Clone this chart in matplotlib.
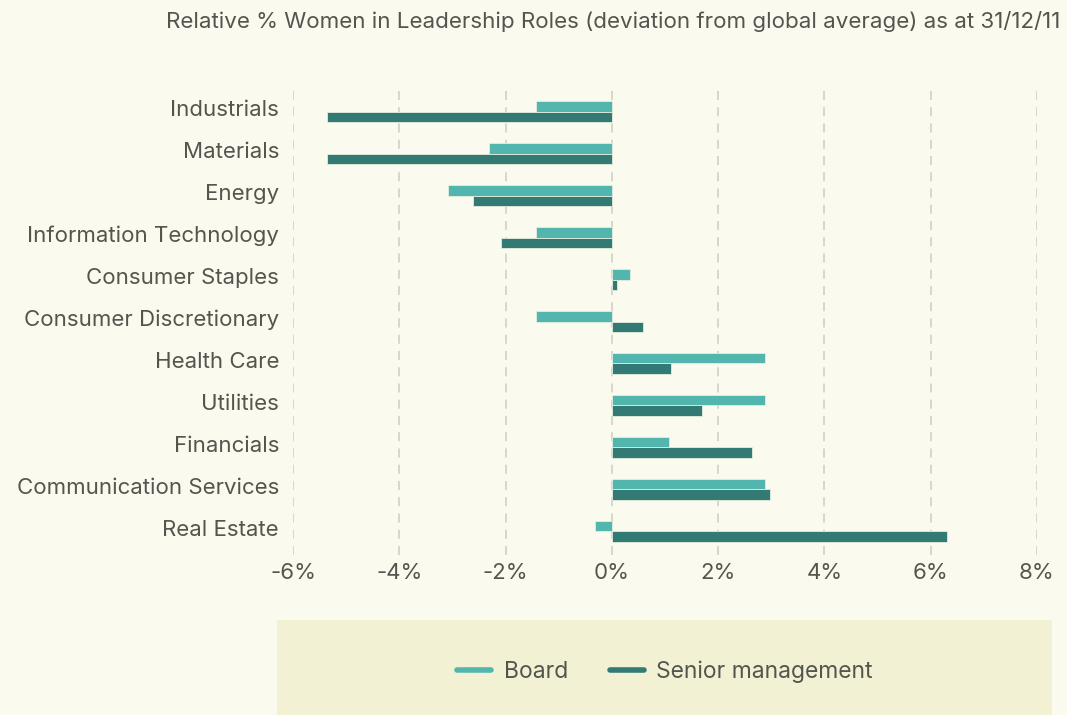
import matplotlib.pyplot as plt
from matplotlib.lines import Line2D
from matplotlib.patches import Rectangle
import numpy as np

# Data (percentage points vs global average)
sectors = ['Industrials', 'Materials', 'Energy', 'Information Technology',
           'Consumer Staples', 'Consumer Discretionary', 'Health Care',
           'Utilities', 'Financials', 'Communication Services', 'Real Estate']
board = [-1.42, -2.32, -3.08, -1.42, 0.34, -1.42, 2.88, 2.88, 1.07, 2.88, -0.32]
senior = [-5.36, -5.36, -2.61, -2.08, 0.10, 0.58, 1.11, 1.69, 2.64, 2.97, 6.31]
xticks = [-6, -4, -2, 0, 2, 4, 6, 8]

bg = '#fbfaef'
board_col = '#52b5ae'
senior_col = '#337a74'
text_col = '#55554f'

plt.rcParams['font.family'] = ['Inter', 'DejaVu Sans']

fig = plt.figure(figsize=(10.67, 7.15), dpi=100, facecolor=bg)
ax = fig.add_axes([293/1067, 1 - 555/715, (1037 - 293)/1067, (555 - 88)/715])
ax.set_facecolor(bg)

y = np.arange(len(sectors))
h = 0.24
ax.barh(y - h/2, board, height=h, color=board_col, edgecolor='#e4eedf', linewidth=0.6, zorder=3)
ax.barh(y + h/2, senior, height=h, color=senior_col, edgecolor='#e4eedf', linewidth=0.6, zorder=3)

ax.set_xlim(-6, 8)
ax.set_ylim(10.56, -0.56)
ax.set_xticks(xticks)
ax.set_xticklabels([f'{t}%' for t in xticks], fontsize=16, color=text_col)
ax.set_yticks(y - 0.08)
ax.set_yticklabels(sectors, fontsize=16, color=text_col)
ax.tick_params(length=0)
ax.tick_params(axis='x', pad=6)
ax.tick_params(axis='y', pad=10)
ax.grid(axis='x', color='#d6d4c9', linestyle=(0, (5, 4)), linewidth=1.3, zorder=0)
for s in ax.spines.values():
    s.set_visible(False)

fig.text(1060/1067, 1 - 22/715, 'Relative % Women in Leadership Roles (deviation from global average) as at 31/12/11',
         ha='right', va='center', fontsize=16.1, color=text_col)

# legend panel
fig.patches.append(Rectangle((277/1067, 0), (1052 - 277)/1067, (715 - 620)/715,
                             transform=fig.transFigure, facecolor='#f3f1d3', edgecolor='none', zorder=0))
handles = [Line2D([0], [0], color=board_col, lw=4, solid_capstyle='round'),
           Line2D([0], [0], color=senior_col, lw=4, solid_capstyle='round')]
fig.legend(handles, ['Board', 'Senior management'], loc='center', bbox_to_anchor=(665/1067, 1 - 672/715),
           ncol=2, frameon=False, fontsize=16.5, labelcolor=text_col, handlelength=1.5,
           columnspacing=1.8, handletextpad=0.55)

plt.savefig('out.png', dpi=100, facecolor=bg)
